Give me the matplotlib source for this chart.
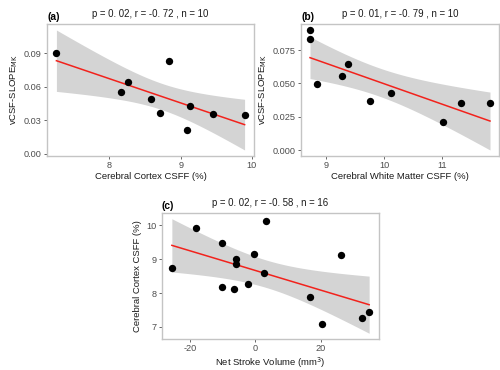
import numpy as np
import matplotlib
matplotlib.use("Agg")
import matplotlib.pyplot as plt
from matplotlib.ticker import FormatStrFormatter

plt.rcParams.update({
    "font.family": ["Liberation Sans", "DejaVu Sans"],
    "axes.unicode_minus": False,
    "font.size": 7,
})

# shared subjects (n = 10)
vcsf_slope = [0.090, 0.0552, 0.0648, 0.0493, 0.0368, 0.0829, 0.0214, 0.0425, 0.0353, 0.0350]
cortex_csff = [7.255, 8.167, 8.255, 8.583, 8.713, 8.833, 9.093, 9.134, 9.454, 9.898]
wm_csff = [8.715, 9.263, 9.369, 8.832, 9.754, 8.715, 11.017, 10.117, 11.318, 11.827]

# panel (c), n = 16
stroke_vol = [-25.5, -18.2, -10.1, -10.1, -5.76, -5.85, -6.45, -2.33, -0.5, 3.23,
              2.73, 16.6, 20.4, 26.2, 32.6, 34.8]
cortex_c = [8.73, 9.91, 9.48, 8.18, 8.99, 8.85, 8.13, 8.26, 9.15, 10.12,
            8.60, 7.87, 7.09, 9.11, 7.25, 7.44]

TICK_C = "#4d4d4d"
BORDER_C = "#c4c4c4"
LINE_C = "#f2221c"
RIBBON_C = "#d4d4d4"

W, H = 500, 370


def add_panel(fig, box, x, y, t_crit, xticks, yticks, yfmt, xlabel, ylabel, title, tag):
    l, t, r, b = box
    ax = fig.add_axes([l / W, 1 - b / H, (r - l) / W, (b - t) / H])
    x = np.asarray(x)
    y = np.asarray(y)
    n = len(x)
    slope, icpt = np.polyfit(x, y, 1)
    resid = y - (slope * x + icpt)
    s = np.sqrt(np.sum(resid ** 2) / (n - 2))
    xs = np.linspace(x.min(), x.max(), 100)
    ys = slope * xs + icpt
    se = s * np.sqrt(1 / n + (xs - x.mean()) ** 2 / np.sum((x - x.mean()) ** 2))
    ax.fill_between(xs, ys - t_crit * se, ys + t_crit * se, color=RIBBON_C, lw=0, zorder=1)
    ax.plot(xs, ys, color=LINE_C, lw=1.1, zorder=2)
    ax.scatter(x, y, s=28, color="black", zorder=3, lw=0)
    ax.margins(x=0.05, y=0.05)
    ax.set_xticks(xticks)
    ax.set_yticks(yticks)
    ax.yaxis.set_major_formatter(FormatStrFormatter(yfmt))
    for sp in ax.spines.values():
        sp.set_color(BORDER_C)
        sp.set_linewidth(1.0)
    ax.tick_params(colors=TICK_C, labelcolor=TICK_C, length=2.5, width=0.6,
                   labelsize=6.6, pad=1.2)
    ax.set_xlabel(xlabel, fontsize=6.8, color="#1a1a1a", labelpad=1.5)
    ax.set_ylabel(ylabel, fontsize=6.8, color="#1a1a1a", labelpad=3)
    ax.set_title(title, fontsize=6.9, color="#1a1a1a", pad=5)
    fig.text(l / W, 1 - (t - 2) / H, tag, fontsize=7.4, fontweight="bold",
             ha="left", va="bottom")
    return ax


fig = plt.figure(figsize=(5, 3.7), dpi=100)

add_panel(fig, (47, 24, 254, 156), cortex_csff, vcsf_slope, 2.306,
          [8, 9, 10], [0, 0.03, 0.06, 0.09], "%.2f",
          "Cerebral Cortex CSFF (%)", r"vCSF-SLOPE$_{\mathrm{MK}}$",
          "p = 0. 02, r = -0. 72 , n = 10", "(a)")

add_panel(fig, (301, 24, 499, 156), wm_csff, vcsf_slope, 2.306,
          [9, 10, 11], [0, 0.025, 0.05, 0.075], "%.3f",
          "Cerebral White Matter CSFF (%)", r"vCSF-SLOPE$_{\mathrm{MK}}$",
          "p = 0. 01, r = -0. 79 , n = 10", "(b)")

add_panel(fig, (162, 213, 379, 339), stroke_vol, cortex_c, 2.145,
          [-20, 0, 20], [7, 8, 9, 10], "%d",
          r"Net Stroke Volume (mm$^3$)", "Cerebral Cortex CSFF (%)",
          "p = 0. 02, r = -0. 58 , n = 16", "(c)")

fig.savefig("out.png", dpi=100)
